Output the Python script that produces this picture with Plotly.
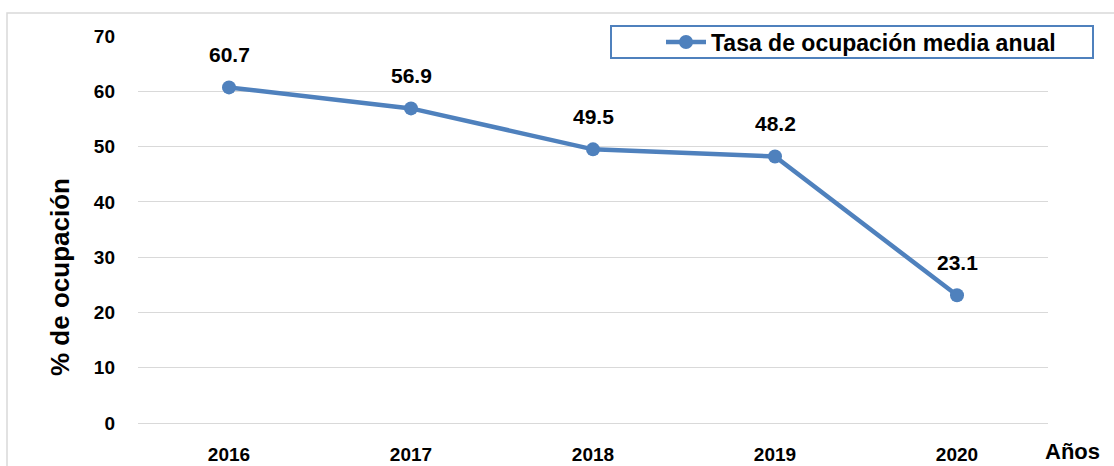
import plotly.graph_objects as go

years = ["2016", "2017", "2018", "2019", "2020"]
rates = [60.7, 56.9, 49.5, 48.2, 23.1]
y_ticks = [0, 10, 20, 30, 40, 50, 60, 70]

BLUE = "#4F81BD"
GRID = "#D9D9D9"
FONT = "Liberation Sans, Arial, sans-serif"

W, H = 1114, 466
L, R, T, B = 138, 66, 36, 43
pw, ph = W - L - R, H - T - B

def px_x(x):
    return (x - L) / pw

def px_y(y):
    return (H - B - y) / ph

fig = go.Figure()
fig.add_trace(go.Scatter(
    x=years, y=rates, mode="lines+markers",
    name="<b>Tasa de ocupación media anual</b>",
    line=dict(color=BLUE, width=4.5),
    marker=dict(color=BLUE, size=14),
))

for i, v in enumerate(rates):
    fig.add_annotation(x=i, y=v, xref="x", yref="y", text=f"<b>{v:.1f}</b>",
                       showarrow=False, xanchor="center", yanchor="middle",
                       yshift=33, font=dict(family=FONT, size=21, color="black"))

fig.add_annotation(xref="paper", yref="paper", x=px_x(60), y=px_y(277),
                   xanchor="center", yanchor="middle",
                   text="<b>% de ocupación</b>", textangle=-90, showarrow=False,
                   font=dict(family=FONT, size=26, color="black"))
fig.add_annotation(xref="paper", yref="paper", x=px_x(1072), y=px_y(451),
                   xanchor="center", yanchor="middle",
                   text="<b>Años</b>", showarrow=False,
                   font=dict(family=FONT, size=22, color="black"))

# outer frame
fig.add_shape(type="rect", xref="paper", yref="paper",
              x0=px_x(7), x1=px_x(1125), y0=px_y(480), y1=px_y(13),
              line=dict(color=GRID, width=1.5), layer="below")
# legend box
fig.add_shape(type="rect", xref="paper", yref="paper",
              x0=px_x(611), x1=px_x(1093), y0=px_y(58), y1=px_y(26),
              line=dict(color=BLUE, width=2))

fig.update_layout(
    width=W, height=H,
    margin=dict(l=L, r=R, t=T, b=B, autoexpand=False),
    plot_bgcolor="white", paper_bgcolor="white",
    font=dict(family=FONT, color="black"),
    showlegend=True,
    legend=dict(x=px_x(661), y=px_y(42), xanchor="left", yanchor="middle",
                bgcolor="rgba(0,0,0,0)", borderwidth=0,
                font=dict(family=FONT, size=23, color="black"),
                itemwidth=40),
    xaxis=dict(type="category", range=[-0.5, 4.5], showgrid=False,
               showline=False, zeroline=False, ticks="",
               tickfont=dict(family=FONT, size=19, color="black"),
               ticklabelstandoff=18,
               tickvals=years, ticktext=[f"<b>{y}</b>" for y in years]),
    yaxis=dict(range=[0, 70], tickvals=y_ticks,
               ticktext=[f"<b>{t}</b>" for t in y_ticks],
               showgrid=True, gridcolor=GRID, gridwidth=1,
               zeroline=True, zerolinecolor=GRID, zerolinewidth=1,
               showline=False, ticks="",
               tickfont=dict(family=FONT, size=19, color="black"),
               ticklabelstandoff=22),
)

fig.write_html("out.html", config={"displayModeBar": False},
               post_script="document.body.style.margin='0px';document.body.style.overflow='hidden';")
